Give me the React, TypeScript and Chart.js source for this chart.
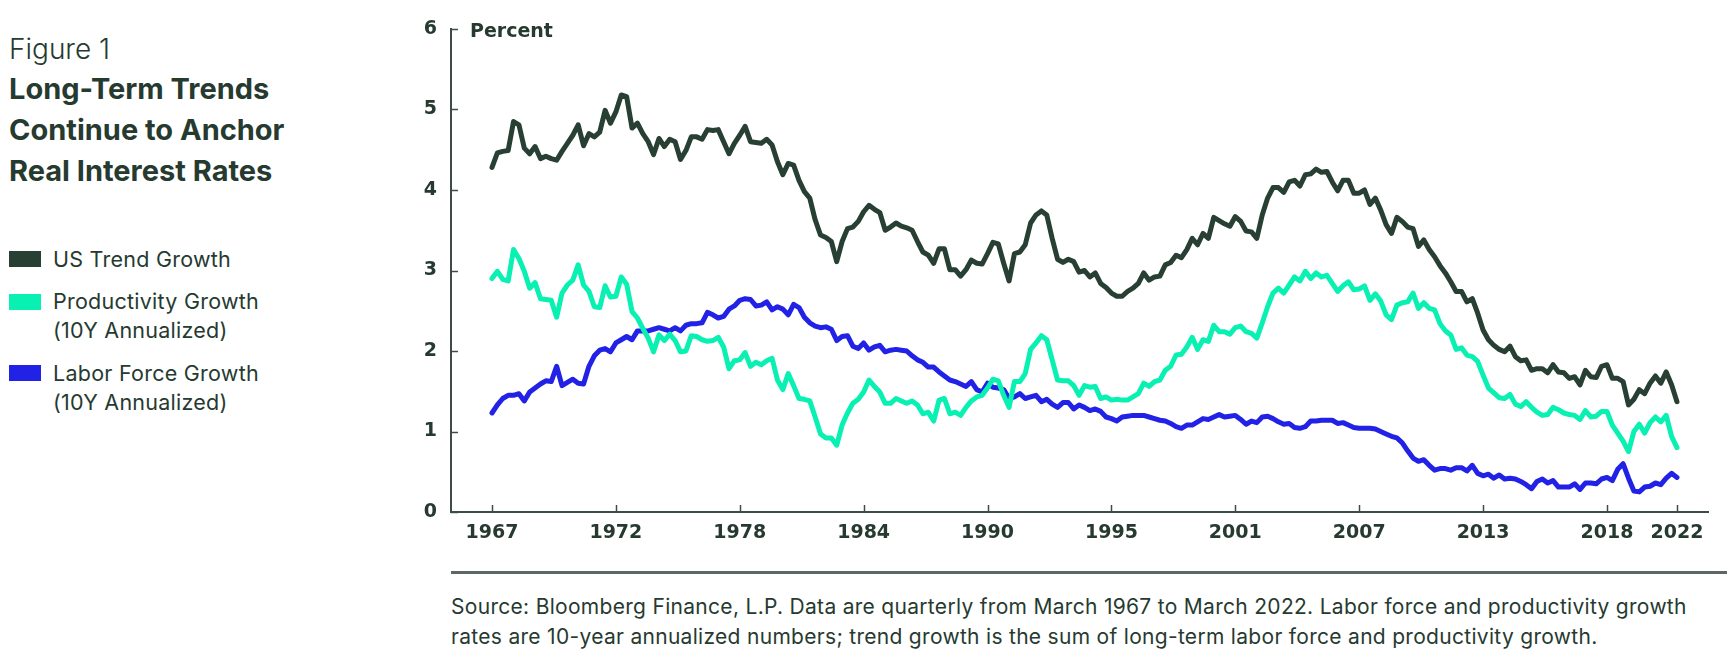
import React, { useEffect, useRef } from 'react';
import { Chart, registerables } from 'chart.js';

Chart.register(...registerables);

// Quarterly data, March 1967 (index 0) to March 2022 (index 220)
const US_TREND: number[] = [
  4.28, 4.46, 4.48, 4.49, 4.85, 4.81, 4.52, 4.45, 4.54, 4.39,
  4.42, 4.39, 4.37, 4.48, 4.58, 4.68, 4.81, 4.55, 4.70, 4.66,
  4.72, 4.99, 4.83, 4.97, 5.18, 5.16, 4.77, 4.83, 4.70, 4.60,
  4.44, 4.64, 4.54, 4.63, 4.60, 4.38, 4.49, 4.66, 4.66, 4.63,
  4.75, 4.74, 4.75, 4.60, 4.45, 4.58, 4.68, 4.79, 4.60, 4.59,
  4.58, 4.63, 4.56, 4.35, 4.19, 4.33, 4.31, 4.12, 3.98, 3.90,
  3.63, 3.44, 3.41, 3.36, 3.11, 3.36, 3.52, 3.54, 3.61, 3.73,
  3.81, 3.76, 3.72, 3.50, 3.54, 3.59, 3.55, 3.53, 3.50, 3.36,
  3.23, 3.19, 3.09, 3.27, 3.27, 3.01, 3.01, 2.93, 3.01, 3.13,
  3.09, 3.08, 3.21, 3.35, 3.33, 3.09, 2.87, 3.21, 3.23, 3.32,
  3.59, 3.69, 3.74, 3.69, 3.40, 3.14, 3.10, 3.14, 3.11, 2.98,
  3.00, 2.92, 2.97, 2.84, 2.79, 2.72, 2.68, 2.68, 2.74, 2.78,
  2.84, 2.97, 2.88, 2.92, 2.93, 3.07, 3.10, 3.19, 3.16, 3.26,
  3.40, 3.32, 3.46, 3.40, 3.66, 3.62, 3.58, 3.55, 3.67, 3.61,
  3.49, 3.48, 3.40, 3.69, 3.90, 4.03, 4.03, 3.97, 4.10, 4.12,
  4.05, 4.19, 4.20, 4.26, 4.22, 4.23, 4.10, 3.99, 4.12, 4.12,
  3.96, 3.96, 4.00, 3.82, 3.90, 3.75, 3.57, 3.46, 3.66, 3.61,
  3.54, 3.52, 3.30, 3.38, 3.26, 3.17, 3.06, 2.97, 2.86, 2.74,
  2.74, 2.61, 2.65, 2.47, 2.26, 2.14, 2.07, 2.02, 1.99, 2.06,
  1.93, 1.88, 1.89, 1.76, 1.78, 1.78, 1.73, 1.83, 1.74, 1.73,
  1.66, 1.68, 1.58, 1.76, 1.68, 1.67, 1.81, 1.83, 1.66, 1.66,
  1.62, 1.33, 1.40, 1.52, 1.47, 1.60, 1.69, 1.60, 1.74, 1.58, 1.37,
];

const PRODUCTIVITY: number[] = [
  2.90, 2.99, 2.89, 2.87, 3.26, 3.15, 2.99, 2.78, 2.85, 2.65,
  2.64, 2.63, 2.42, 2.72, 2.82, 2.88, 3.07, 2.82, 2.74, 2.55,
  2.54, 2.81, 2.67, 2.68, 2.92, 2.83, 2.49, 2.41, 2.28, 2.16,
  1.99, 2.20, 2.13, 2.21, 2.13, 1.99, 2.00, 2.19, 2.18, 2.14,
  2.12, 2.13, 2.17, 2.05, 1.78, 1.88, 1.89, 1.98, 1.81, 1.86,
  1.83, 1.88, 1.91, 1.64, 1.52, 1.72, 1.57, 1.41, 1.40, 1.38,
  1.18, 0.97, 0.92, 0.92, 0.83, 1.08, 1.23, 1.35, 1.40, 1.49,
  1.64, 1.56, 1.49, 1.35, 1.35, 1.41, 1.38, 1.35, 1.38, 1.33,
  1.22, 1.24, 1.13, 1.39, 1.41, 1.22, 1.24, 1.20, 1.30, 1.38,
  1.43, 1.45, 1.54, 1.65, 1.63, 1.45, 1.30, 1.62, 1.62, 1.72,
  2.02, 2.10, 2.19, 2.14, 1.89, 1.64, 1.63, 1.63, 1.57, 1.45,
  1.57, 1.55, 1.56, 1.41, 1.43, 1.39, 1.40, 1.39, 1.39, 1.43,
  1.47, 1.60, 1.56, 1.62, 1.64, 1.76, 1.81, 1.95, 1.96, 2.05,
  2.17, 2.02, 2.14, 2.12, 2.32, 2.24, 2.24, 2.21, 2.29, 2.31,
  2.24, 2.22, 2.16, 2.35, 2.55, 2.72, 2.78, 2.72, 2.82, 2.92,
  2.87, 2.99, 2.90, 2.97, 2.92, 2.94, 2.84, 2.74, 2.81, 2.86,
  2.76, 2.77, 2.81, 2.63, 2.71, 2.62, 2.45, 2.39, 2.57, 2.60,
  2.61, 2.72, 2.53, 2.60, 2.53, 2.51, 2.34, 2.25, 2.20, 2.02,
  2.04, 1.95, 1.93, 1.87, 1.70, 1.54, 1.48, 1.42, 1.41, 1.46,
  1.34, 1.31, 1.37, 1.30, 1.24, 1.20, 1.21, 1.30, 1.27, 1.23,
  1.21, 1.20, 1.15, 1.26, 1.18, 1.19, 1.25, 1.25, 1.08, 0.98,
  0.88, 0.75, 1.00, 1.09, 0.98, 1.11, 1.18, 1.12, 1.20, 0.94, 0.80,
];

const LABOR_FORCE: number[] = [
  1.23, 1.33, 1.41, 1.45, 1.45, 1.47, 1.38, 1.49, 1.54, 1.59,
  1.63, 1.62, 1.81, 1.57, 1.61, 1.65, 1.60, 1.59, 1.81, 1.94,
  2.01, 2.03, 1.99, 2.10, 2.14, 2.18, 2.14, 2.25, 2.25, 2.25,
  2.27, 2.29, 2.27, 2.25, 2.29, 2.25, 2.32, 2.34, 2.34, 2.35,
  2.48, 2.45, 2.41, 2.43, 2.52, 2.56, 2.63, 2.65, 2.64, 2.56,
  2.57, 2.61, 2.51, 2.55, 2.52, 2.45, 2.58, 2.54, 2.42, 2.35,
  2.31, 2.29, 2.30, 2.27, 2.13, 2.18, 2.19, 2.06, 2.03, 2.10,
  2.01, 2.05, 2.07, 1.99, 2.01, 2.02, 2.01, 2.00, 1.94, 1.89,
  1.86, 1.80, 1.80, 1.74, 1.69, 1.64, 1.62, 1.59, 1.56, 1.62,
  1.52, 1.49, 1.60, 1.55, 1.54, 1.52, 1.41, 1.43, 1.47, 1.41,
  1.43, 1.45, 1.37, 1.40, 1.34, 1.30, 1.36, 1.36, 1.28, 1.33,
  1.30, 1.26, 1.28, 1.25, 1.18, 1.16, 1.13, 1.18, 1.19, 1.20,
  1.20, 1.20, 1.18, 1.16, 1.14, 1.13, 1.10, 1.06, 1.04, 1.08,
  1.08, 1.12, 1.16, 1.15, 1.18, 1.21, 1.18, 1.19, 1.20, 1.15,
  1.09, 1.13, 1.11, 1.18, 1.19, 1.16, 1.12, 1.09, 1.10, 1.05,
  1.04, 1.06, 1.13, 1.13, 1.14, 1.14, 1.14, 1.10, 1.11, 1.08,
  1.05, 1.04, 1.04, 1.04, 1.03, 1.00, 0.97, 0.94, 0.92, 0.86,
  0.76, 0.67, 0.63, 0.65, 0.58, 0.52, 0.54, 0.54, 0.52, 0.55,
  0.55, 0.51, 0.58, 0.48, 0.45, 0.47, 0.42, 0.46, 0.41, 0.42,
  0.41, 0.38, 0.34, 0.29, 0.38, 0.41, 0.36, 0.39, 0.31, 0.31,
  0.31, 0.35, 0.28, 0.36, 0.36, 0.35, 0.41, 0.43, 0.39, 0.53,
  0.60, 0.42, 0.26, 0.25, 0.31, 0.32, 0.36, 0.34, 0.42, 0.48, 0.43,
];

// x-axis ticks: quarter index and its label
const TICK_QUARTERS: number[] = [0, 23, 46, 69, 92, 115, 138, 161, 184, 207, 220];
const TICK_LABELS: string[] = ['1967', '1972', '1978', '1984', '1990', '1995', '2001', '2007', '2013', '2018', '2022'];
const Y_MIN = 0;
const Y_MAX = 6;

const SERIES_NAMES: string[] = ['US Trend Growth', 'Productivity Growth (10Y Annualized)', 'Labor Force Growth (10Y Annualized)'];

const C_TREND = '#283f34';
const C_PROD = '#08f0b2';
const C_LABOR = '#2222e6';
const C_TEXT = '#263a30';
const C_AXIS = '#3d4c44';

const innerTicks = {
  id: 'innerTicks',
  beforeDatasetsDraw(chart: any) {
    const { ctx, chartArea, scales } = chart;
    const x = scales.x;
    const y = scales.y;
    ctx.save();
    ctx.strokeStyle = C_AXIS;
    ctx.lineWidth = 1.5;
    y.ticks.forEach((t: any) => {
      const py = Math.round(y.getPixelForValue(t.value)) + 0.5;
      ctx.beginPath();
      ctx.moveTo(chartArea.left, py);
      ctx.lineTo(chartArea.left + 7, py);
      ctx.stroke();
    });
    x.ticks.forEach((t: any) => {
      const px = Math.round(x.getPixelForValue(t.value)) + 0.5;
      ctx.beginPath();
      ctx.moveTo(px, chartArea.bottom);
      ctx.lineTo(px, chartArea.bottom - 7);
      ctx.stroke();
    });
    ctx.restore();
  },
};

function toPoints(arr: number[]) {
  return arr.map((v, i) => ({ x: i, y: v }));
}

function LineChart() {
  const ref = useRef<HTMLCanvasElement | null>(null);
  useEffect(() => {
    if (!ref.current) return;
    const tickFont = { family: '"DejaVu Sans", sans-serif', size: 19, weight: 'bold' as const };
    const chart = new Chart(ref.current, {
      type: 'line',
      data: {
        datasets: [
          { label: SERIES_NAMES[0], data: toPoints(US_TREND), borderColor: C_TREND },
          { label: SERIES_NAMES[1], data: toPoints(PRODUCTIVITY), borderColor: C_PROD },
          { label: SERIES_NAMES[2], data: toPoints(LABOR_FORCE), borderColor: C_LABOR },
        ].map((d) => ({
          ...d,
          borderWidth: 5,
          pointRadius: 0,
          tension: 0,
          fill: false,
          borderJoinStyle: 'round' as const,
          borderCapStyle: 'round' as const,
        })),
      },
      options: {
        animation: false,
        responsive: false,
        devicePixelRatio: 1,
        layout: { padding: { left: 0, top: 29, right: 19, bottom: 0 } },
        plugins: { legend: { display: false }, tooltip: { enabled: false } },
        scales: {
          x: {
            type: 'linear',
            min: -7.61,
            max: 225.76,
            grid: { display: false, drawTicks: false },
            border: { display: true, color: C_AXIS, width: 2 },
            afterBuildTicks: (scale: any) => {
              scale.ticks = TICK_QUARTERS.map((v) => ({ value: v }));
            },
            afterFit: (scale: any) => {
              scale.height = 48;
            },
            ticks: {
              autoSkip: false,
              maxRotation: 0,
              padding: 10,
              color: C_TEXT,
              font: tickFont,
              callback: (_v: any, i: number) => TICK_LABELS[i],
            },
          },
          y: {
            type: 'linear',
            min: Y_MIN,
            max: Y_MAX,
            grid: { display: false, drawTicks: false },
            border: { display: true, color: C_AXIS, width: 2 },
            afterFit: (scale: any) => {
              scale.width = 71;
            },
            ticks: { stepSize: 1, padding: 14, color: C_TEXT, font: tickFont },
          },
        },
      },
      plugins: [innerTicks],
    } as any);
    return () => chart.destroy();
  }, []);
  return (
    <canvas
      ref={ref}
      width={1347}
      height={560}
      style={{ position: 'absolute', left: 380, top: 0, width: 1347, height: 560 }}
    />
  );
}

const LEGEND_ITEMS = [
  { color: C_TREND, lines: ['US Trend Growth'], swatchTop: 251, textTop: 245 },
  { color: C_PROD, lines: ['Productivity Growth', '(10Y Annualized)'], swatchTop: 294, textTop: 287 },
  { color: C_LABOR, lines: ['Labor Force Growth', '(10Y Annualized)'], swatchTop: 365, textTop: 359 },
];

export default function App() {
  const sans = 'Inter, "Noto Sans", sans-serif';
  return (
    <div
      style={{
        position: 'absolute',
        left: 0,
        top: 0,
        width: 1727,
        height: 656,
        background: '#ffffff',
        overflow: 'hidden',
        fontFamily: sans,
        color: C_TEXT,
      }}
    >
      <div style={{ position: 'absolute', left: 9, top: 35, fontSize: 28, lineHeight: '28px', fontWeight: 300, whiteSpace: 'nowrap' }}>
        Figure 1
      </div>
      <div style={{ position: 'absolute', left: 9, top: 68, fontSize: 29, lineHeight: '41px', fontWeight: 700, whiteSpace: 'nowrap', letterSpacing: '0px' }}>
        <div>Long-Term Trends</div>
        <div>Continue to Anchor</div>
        <div>Real Interest Rates</div>
      </div>
      {LEGEND_ITEMS.map((it, k) => (
        <React.Fragment key={k}>
          <div style={{ position: 'absolute', left: 9, top: it.swatchTop, width: 32, height: 16, background: it.color }} />
          <div style={{ position: 'absolute', left: 53, top: it.textTop, fontSize: 21.5, lineHeight: '29px', fontWeight: 400, whiteSpace: 'nowrap', letterSpacing: '0.25px' }}>
            {it.lines.map((l, j) => (
              <div key={j}>{l}</div>
            ))}
          </div>
        </React.Fragment>
      ))}
      <LineChart />
      <div
        style={{
          position: 'absolute',
          left: 470,
          top: 21,
          fontFamily: '"DejaVu Sans", sans-serif',
          fontWeight: 700,
          fontSize: 19,
          lineHeight: '19px',
          whiteSpace: 'nowrap',
        }}
      >
        Percent
      </div>
      <div style={{ position: 'absolute', left: 451, top: 571, width: 1276, height: 3, background: '#5b6962' }} />
      <div style={{ position: 'absolute', left: 451, top: 592, fontSize: 21, lineHeight: '30px', fontWeight: 400, whiteSpace: 'nowrap', letterSpacing: '0.3px' }}>
        <div>Source: Bloomberg Finance, L.P. Data are quarterly from March 1967 to March 2022. Labor force and productivity growth</div>
        <div>rates are 10-year annualized numbers; trend growth is the sum of long-term labor force and productivity growth.</div>
      </div>
    </div>
  );
}
